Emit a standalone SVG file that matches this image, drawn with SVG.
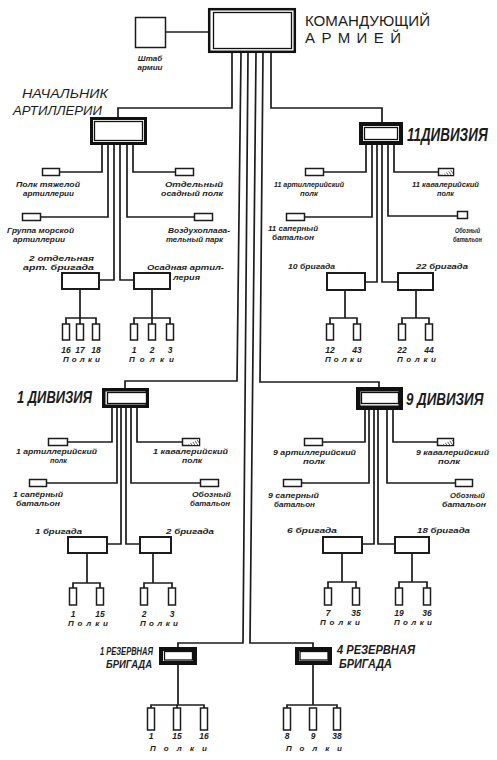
<svg xmlns="http://www.w3.org/2000/svg" width="497" height="760" viewBox="0 0 497 760">
<defs>
<style>
.ln{fill:none;stroke:#1c1c1c;stroke-width:1.7}
.sb{fill:#fff;stroke:#1c1c1c;stroke-width:1.5}
.bb{fill:#fff;stroke:#1c1c1c;stroke-width:2}
.rg{fill:#fff;stroke:#1c1c1c;stroke-width:1.5}
.ob{fill:#fff;stroke:#111}
.ib{fill:#fff;stroke:#111;stroke-width:1.3}
.t{font-family:"Liberation Sans",Arial,sans-serif;font-style:italic;font-weight:bold;fill:#1c1c1c;font-size:8px}
.n{text-anchor:middle;font-size:8.5px}
.hd{font-family:"Liberation Sans",Arial,sans-serif;fill:#1c1c1c}
</style>
<pattern id="hatch" width="2.4" height="2.4" patternUnits="userSpaceOnUse" patternTransform="rotate(-35)">
<rect width="2.4" height="2.4" fill="#fff"/>
<line x1="0" y1="0" x2="0" y2="2.4" stroke="#111" stroke-width="1.1"/>
</pattern>
</defs>
<rect width="497" height="760" fill="#fff"/>

<g id="connectors">
<path class="ln" d="M166,32H208"/>
<path class="ln" d="M232,53V108H118V117"/>
<path class="ln" d="M271,53V108H382V122"/>
<path class="ln" d="M241,53L237,381H125V388"/>
<path class="ln" d="M263,53L260,382H379V387"/>
<path class="ln" d="M248,53L243,643H178V647"/>
<path class="ln" d="M256,53L250,643H313V647"/>
<path class="ln" d="M102,145V172H60"/>
<path class="ln" d="M108,145V217H41"/>
<path class="ln" d="M114,145V280H99"/>
<path class="ln" d="M120,145V280H134"/>
<path class="ln" d="M127,145V217H194"/>
<path class="ln" d="M133,145V172H175"/>
<path class="ln" d="M80,289V318M66,324V318H96V324M80,318V324"/>
<path class="ln" d="M152,289V318M134,324V318H170V324M152,318V324"/>
<path class="ln" d="M366,145V172H324"/>
<path class="ln" d="M372,145V217H305"/>
<path class="ln" d="M377,145V282H365"/>
<path class="ln" d="M382,145V282H398"/>
<path class="ln" d="M388,145V216H457"/>
<path class="ln" d="M394,145V172H438"/>
<path class="ln" d="M345,290V318M330,324V318H357V324"/>
<path class="ln" d="M416,290V318M402,324V318H429V324"/>
<path class="ln" d="M112,408V442H68"/>
<path class="ln" d="M117,408V483H47"/>
<path class="ln" d="M121,408V544H107"/>
<path class="ln" d="M126,408V544H140"/>
<path class="ln" d="M131,408V483H200"/>
<path class="ln" d="M137,408V442H182"/>
<path class="ln" d="M87,553V583M73,588V583H100V588"/>
<path class="ln" d="M153,553V583M144,588V583H172V588"/>
<path class="ln" d="M365,410V442H323"/>
<path class="ln" d="M369,410V483H302"/>
<path class="ln" d="M374,410V544H362"/>
<path class="ln" d="M378,410V544H395"/>
<path class="ln" d="M387,410V483H455"/>
<path class="ln" d="M393,410V442H437"/>
<path class="ln" d="M342,553V582M328,588V582H356V588"/>
<path class="ln" d="M412,553V582M399,588V582H427V588"/>
<path class="ln" d="M178,665V705M151,708V705H204V708M177,705V708"/>
<path class="ln" d="M313,665V705M287,708V705H337V708"/>
</g>

<g id="commander">
<rect class="ob" x="209.2" y="9.2" width="85.6" height="42.6" stroke-width="2.5"/>
<rect class="ib" x="213.5" y="12.5" width="78" height="36"/>
<text class="hd" x="305" y="26" font-size="15" textLength="125" lengthAdjust="spacingAndGlyphs">КОМАНДУЮЩИЙ</text>
<text class="hd" x="305" y="43" font-size="15" textLength="96" lengthAdjust="spacing">АРМИЕЙ</text>
</g>

<g id="staff">
<rect class="sb" x="135.5" y="17.5" width="30" height="30"/>
<text class="t" x="150" y="61" font-size="7.5" text-anchor="middle">Штаб</text>
<text class="t" x="150" y="70" font-size="7.5" text-anchor="middle">армии</text>
</g>

<g id="artillery-chief">
<rect class="ob" x="91.5" y="118.5" width="54" height="25" stroke-width="3"/>
<rect class="ib" x="94.5" y="121.5" width="48" height="19"/>
<text class="hd" x="22" y="98" font-size="13" font-style="italic" textLength="86" lengthAdjust="spacingAndGlyphs">НАЧАЛЬНИК</text>
<text class="hd" x="13" y="115" font-size="13" font-style="italic" textLength="89" lengthAdjust="spacingAndGlyphs">АРТИЛЛЕРИИ</text>
</g>
<g id="heavy-art">
<rect class="sb" x="42.5" y="168.5" width="17" height="7"/>
<text class="t" x="16" y="187" textLength="64" lengthAdjust="spacingAndGlyphs">Полк тяжелой</text>
<text class="t" x="23" y="196" textLength="51" lengthAdjust="spacingAndGlyphs">артиллерии</text>
</g>
<g id="naval-art">
<rect class="sb" x="22.5" y="213.5" width="18" height="7"/>
<text class="t" x="7" y="233" textLength="67" lengthAdjust="spacingAndGlyphs">Группа морской</text>
<text class="t" x="13" y="242" textLength="52" lengthAdjust="spacingAndGlyphs">артиллерии</text>
</g>
<g id="siege-regt">
<rect class="sb" x="175.5" y="168.5" width="18" height="7"/>
<text class="t" x="165" y="187" textLength="58" lengthAdjust="spacingAndGlyphs">Отдельный</text>
<text class="t" x="161" y="196" textLength="62" lengthAdjust="spacingAndGlyphs">осадный полк</text>
</g>
<g id="balloon-park">
<rect class="sb" x="194.5" y="213.5" width="18" height="7"/>
<text class="t" x="168" y="233" textLength="62" lengthAdjust="spacingAndGlyphs">Воздухоплава-</text>
<text class="t" x="166" y="242" textLength="57" lengthAdjust="spacingAndGlyphs">тельный парк</text>
</g>
<g id="art-brigade-2">
<rect class="bb" x="62" y="273" width="37" height="16"/>
<text class="t" x="29" y="261" font-size="10" textLength="65" lengthAdjust="spacingAndGlyphs">2 отдельная</text>
<text class="t" x="23" y="270" font-size="10" textLength="71" lengthAdjust="spacingAndGlyphs">арт. бригада</text>
<rect class="rg" x="62.5" y="324" width="7" height="16"/>
<rect class="rg" x="76.5" y="324" width="7" height="16"/>
<rect class="rg" x="92.5" y="324" width="7" height="16"/>
<text class="t n" x="66" y="353">16</text>
<text class="t n" x="80" y="353">17</text>
<text class="t n" x="96" y="353">18</text>
<text class="t" x="63" y="362" textLength="37" lengthAdjust="spacing">Полки</text>
</g>
<g id="siege-art">
<rect class="bb" x="134" y="273" width="36" height="16"/>
<text class="t" x="147" y="270" font-size="10" textLength="77" lengthAdjust="spacingAndGlyphs">Осадная артил-</text>
<text class="t" x="173" y="280" font-size="10" textLength="27" lengthAdjust="spacingAndGlyphs">лерия</text>
<rect class="rg" x="130.5" y="324" width="7" height="16"/>
<rect class="rg" x="148.5" y="324" width="7" height="16"/>
<rect class="rg" x="166.5" y="324" width="7" height="16"/>
<text class="t n" x="134" y="353">1</text>
<text class="t n" x="152" y="353">2</text>
<text class="t n" x="170" y="353">3</text>
<text class="t" x="129" y="362" textLength="45" lengthAdjust="spacing">Полки</text>
</g>

<g id="div11">
<rect class="ob" x="361" y="124" width="40" height="19" stroke-width="4"/>
<rect class="ib" x="364.5" y="127.5" width="33" height="12"/>
<text class="hd" transform="translate(407,141) scale(0.74,1)" font-size="18" font-style="italic" font-weight="bold" textLength="109" lengthAdjust="spacingAndGlyphs">11ДИВИЗИЯ</text>
</g>
<g id="art11">
<rect class="sb" x="305.5" y="168.5" width="18" height="7"/>
<text class="t" x="274" y="187" textLength="70" lengthAdjust="spacingAndGlyphs">11 артиллерийский</text>
<text class="t" x="300" y="196" textLength="18" lengthAdjust="spacingAndGlyphs">полк</text>
</g>
<g id="sap11">
<rect class="sb" x="286.5" y="213.5" width="18" height="7"/>
<text class="t" x="268" y="231" textLength="50" lengthAdjust="spacingAndGlyphs">11 саперный</text>
<text class="t" x="272" y="240" textLength="42" lengthAdjust="spacingAndGlyphs">батальон</text>
</g>
<g id="cav11">
<rect class="sb" x="438.5" y="168.5" width="15" height="7"/>
<polygon points="442,175 453,169 453,175" fill="url(#hatch)"/>
<text class="t" x="412" y="187" textLength="67" lengthAdjust="spacingAndGlyphs">11 кавалерийский</text>
<text class="t" x="437" y="196" textLength="17" lengthAdjust="spacingAndGlyphs">полк</text>
</g>
<g id="train11">
<rect class="sb" x="457.5" y="211.5" width="10" height="7"/>
<text class="t" x="455" y="233" textLength="25" lengthAdjust="spacingAndGlyphs">Обозный</text>
<text class="t" x="453" y="242" textLength="29" lengthAdjust="spacingAndGlyphs">батальон</text>
</g>
<g id="brig10">
<rect class="bb" x="327" y="273" width="38" height="17"/>
<text class="t" x="288" y="269" font-size="10" textLength="47" lengthAdjust="spacingAndGlyphs">10 бригада</text>
<rect class="rg" x="326.5" y="324" width="7" height="16"/>
<rect class="rg" x="353.5" y="324" width="7" height="16"/>
<text class="t n" x="330" y="353">12</text>
<text class="t n" x="357" y="353">43</text>
<text class="t" x="325" y="362" textLength="37" lengthAdjust="spacing">Полки</text>
</g>
<g id="brig22">
<rect class="bb" x="398" y="273" width="35" height="17"/>
<text class="t" x="416" y="269" font-size="10" textLength="52" lengthAdjust="spacingAndGlyphs">22 бригада</text>
<rect class="rg" x="398.5" y="324" width="7" height="16"/>
<rect class="rg" x="425.5" y="324" width="7" height="16"/>
<text class="t n" x="402" y="353">22</text>
<text class="t n" x="429" y="353">44</text>
<text class="t" x="397" y="362" textLength="39" lengthAdjust="spacing">Полки</text>
</g>

<g id="div1">
<rect class="ob" x="103.75" y="389.75" width="43.5" height="16.5" stroke-width="3.5"/>
<rect class="ib" x="107.5" y="392.5" width="39" height="11"/>
<text class="hd" x="17" y="403" font-size="17" font-style="italic" font-weight="bold" textLength="75" lengthAdjust="spacingAndGlyphs">1 ДИВИЗИЯ</text>
</g>
<g id="art1">
<rect class="sb" x="48.5" y="438.5" width="19" height="7"/>
<text class="t" x="16" y="454" textLength="81" lengthAdjust="spacingAndGlyphs">1 артиллерийский</text>
<text class="t" x="50" y="463" textLength="17" lengthAdjust="spacingAndGlyphs">полк</text>
</g>
<g id="sap1">
<rect class="sb" x="29.5" y="479.5" width="17" height="7"/>
<text class="t" x="13" y="497" textLength="50" lengthAdjust="spacingAndGlyphs">1 сапёрный</text>
<text class="t" x="16" y="506" textLength="44" lengthAdjust="spacingAndGlyphs">батальон</text>
</g>
<g id="cav1">
<rect class="sb" x="182.5" y="438.5" width="17" height="7"/>
<polygon points="186,445 199,439 199,445" fill="url(#hatch)"/>
<text class="t" x="153" y="454" textLength="75" lengthAdjust="spacingAndGlyphs">1 кавалерийский</text>
<text class="t" x="182" y="463" textLength="20" lengthAdjust="spacingAndGlyphs">полк</text>
</g>
<g id="train1">
<rect class="sb" x="200.5" y="479.5" width="18" height="7"/>
<text class="t" x="192" y="497" textLength="39" lengthAdjust="spacingAndGlyphs">Обозный</text>
<text class="t" x="190" y="506" textLength="40" lengthAdjust="spacingAndGlyphs">батальон</text>
</g>
<g id="brig1">
<rect class="bb" x="68" y="537" width="39" height="16"/>
<text class="t" x="35" y="534" font-size="10" textLength="47" lengthAdjust="spacingAndGlyphs">1 бригада</text>
<rect class="rg" x="69.5" y="588" width="7" height="17"/>
<rect class="rg" x="96.5" y="588" width="7" height="17"/>
<text class="t n" x="73" y="617">1</text>
<text class="t n" x="100" y="617">15</text>
<text class="t" x="68" y="626" textLength="40" lengthAdjust="spacing">Полки</text>
</g>
<g id="brig2">
<rect class="bb" x="140" y="537" width="31" height="16"/>
<text class="t" x="166" y="534" font-size="10" textLength="48" lengthAdjust="spacingAndGlyphs">2 бригада</text>
<rect class="rg" x="140.5" y="588" width="7" height="17"/>
<rect class="rg" x="168.5" y="588" width="7" height="17"/>
<text class="t n" x="144" y="617">2</text>
<text class="t n" x="172" y="617">3</text>
<text class="t" x="140" y="626" textLength="38" lengthAdjust="spacing">Полки</text>
</g>

<g id="div9">
<rect class="ob" x="358.25" y="389.25" width="42.5" height="18.5" stroke-width="4.5"/>
<rect class="ib" x="361.5" y="392.5" width="37" height="11"/>
<text class="hd" transform="translate(406,405) scale(0.79,1)" font-size="17" font-style="italic" font-weight="bold" textLength="98" lengthAdjust="spacingAndGlyphs">9 ДИВИЗИЯ</text>
</g>
<g id="art9">
<rect class="sb" x="304.5" y="438.5" width="18" height="7"/>
<text class="t" x="273" y="455" textLength="83" lengthAdjust="spacingAndGlyphs">9 артиллерийский</text>
<text class="t" x="303" y="464" textLength="22" lengthAdjust="spacingAndGlyphs">полк</text>
</g>
<g id="sap9">
<rect class="sb" x="283.5" y="479.5" width="18" height="7"/>
<text class="t" x="268" y="498" textLength="51" lengthAdjust="spacingAndGlyphs">9 саперный</text>
<text class="t" x="274" y="507" textLength="41" lengthAdjust="spacingAndGlyphs">батальон</text>
</g>
<g id="cav9">
<rect class="sb" x="437.5" y="438.5" width="16" height="7"/>
<polygon points="441,445 453,439 453,445" fill="url(#hatch)"/>
<text class="t" x="416" y="455" textLength="73" lengthAdjust="spacingAndGlyphs">9 кавалерийский</text>
<text class="t" x="438" y="464" textLength="22" lengthAdjust="spacingAndGlyphs">полк</text>
</g>
<g id="train9">
<rect class="sb" x="455.5" y="479.5" width="17" height="7"/>
<text class="t" x="450" y="498" textLength="35" lengthAdjust="spacingAndGlyphs">Обозный</text>
<text class="t" x="442" y="507" textLength="44" lengthAdjust="spacingAndGlyphs">батальон</text>
</g>
<g id="brig6">
<rect class="bb" x="323" y="537" width="39" height="16"/>
<text class="t" x="287" y="533" font-size="10" textLength="50" lengthAdjust="spacingAndGlyphs">6 бригада</text>
<rect class="rg" x="324.5" y="588" width="7" height="17"/>
<rect class="rg" x="352.5" y="588" width="7" height="17"/>
<text class="t n" x="328" y="616">7</text>
<text class="t n" x="356" y="616">35</text>
<text class="t" x="320" y="625" textLength="40" lengthAdjust="spacing">Полки</text>
</g>
<g id="brig18">
<rect class="bb" x="395" y="537" width="34" height="16"/>
<text class="t" x="417" y="533" font-size="10" textLength="53" lengthAdjust="spacingAndGlyphs">18 бригада</text>
<rect class="rg" x="395.5" y="588" width="7" height="17"/>
<rect class="rg" x="423.5" y="588" width="7" height="17"/>
<text class="t n" x="399" y="616">19</text>
<text class="t n" x="427" y="616">36</text>
<text class="t" x="394" y="625" textLength="38" lengthAdjust="spacing">Полки</text>
</g>

<g id="reserve1">
<rect class="ob" x="161" y="649" width="34" height="14" stroke-width="4"/>
<rect class="ib" x="164.5" y="651.5" width="28" height="8.5"/>
<text class="hd" x="100" y="655" font-size="11" font-style="italic" font-weight="bold" textLength="53" lengthAdjust="spacingAndGlyphs">1 РЕЗЕРВНАЯ</text>
<text class="hd" x="106" y="668" font-size="11" font-style="italic" font-weight="bold" textLength="46" lengthAdjust="spacingAndGlyphs">БРИГАДА</text>
<rect class="rg" x="147.5" y="708" width="7" height="22"/>
<rect class="rg" x="173.5" y="708" width="7" height="22"/>
<rect class="rg" x="200.5" y="708" width="7" height="22"/>
<text class="t n" x="151" y="739">1</text>
<text class="t n" x="177" y="739">15</text>
<text class="t n" x="204" y="739">16</text>
<text class="t" x="150" y="751" textLength="57" lengthAdjust="spacing">Полки</text>
</g>
<g id="reserve4">
<rect class="ob" x="297" y="649" width="33" height="14" stroke-width="4"/>
<rect class="ib" x="300" y="651.5" width="28" height="8.5"/>
<text class="hd" x="337" y="654" font-size="12" font-style="italic" font-weight="bold" textLength="78" lengthAdjust="spacingAndGlyphs">4 РЕЗЕРВНАЯ</text>
<text class="hd" x="339" y="668" font-size="12" font-style="italic" font-weight="bold" textLength="53" lengthAdjust="spacingAndGlyphs">БРИГАДА</text>
<rect class="rg" x="283.5" y="708" width="7" height="22"/>
<rect class="rg" x="309.5" y="708" width="7" height="22"/>
<rect class="rg" x="333.5" y="708" width="7" height="22"/>
<text class="t n" x="287" y="739">8</text>
<text class="t n" x="313" y="739">9</text>
<text class="t n" x="337" y="739">38</text>
<text class="t" x="286" y="751" textLength="56" lengthAdjust="spacing">Полки</text>
</g>
</svg>
